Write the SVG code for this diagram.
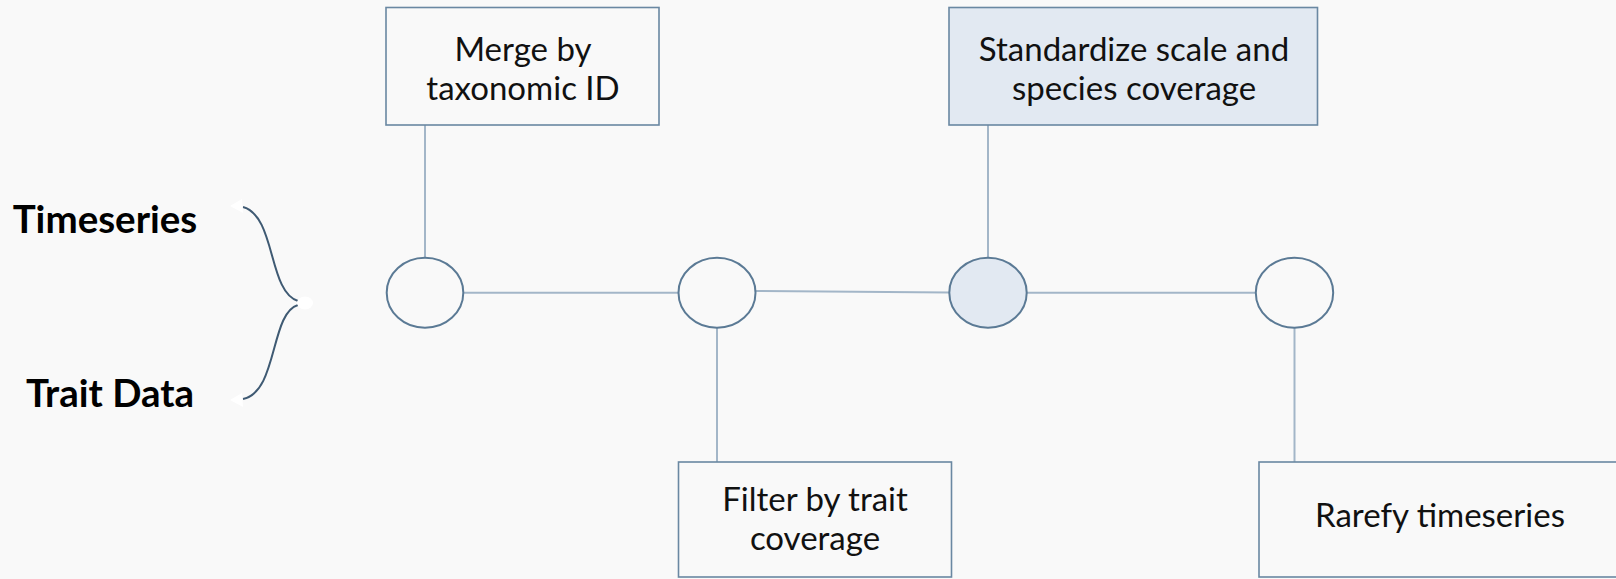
<svg xmlns="http://www.w3.org/2000/svg" width="1616" height="579" viewBox="0 0 1616 579">
  <defs>
    <style>
      .bg { fill: #f9f9f9; }
      .box { fill: #f9f9f9; stroke: #6a88a2; stroke-width: 1.6; }
      .box.hl { fill: #e2e9f2; }
      .node { fill: #f9f9f9; stroke: #5b7a95; stroke-width: 2; }
      .node.hl { fill: #e2e9f2; }
      .link { stroke: #a3b6c8; stroke-width: 2; fill: none; }
      .brace { stroke: #3f5a73; stroke-width: 2; fill: none; }
      .lbl { font-family: Lato, "Open Sans", sans-serif; font-size: 33px; fill: #111; text-anchor: middle; }
      .src { font-family: Lato, "Open Sans", sans-serif; font-size: 38.5px; font-weight: bold; fill: #000; text-anchor: middle; }
    </style>
  </defs>

  <rect class="bg" x="0" y="0" width="1616" height="579"/>

  <!-- connectors -->
  <g id="connectors">
    <line class="link" x1="425" y1="125" x2="425" y2="258"/>
    <line class="link" x1="463" y1="292.7" x2="679" y2="292.7"/>
    <line class="link" x1="717" y1="327" x2="717" y2="462"/>
    <line class="link" x1="755" y1="291" x2="949" y2="292.5"/>
    <line class="link" x1="988" y1="125" x2="988" y2="258"/>
    <line class="link" x1="1027" y1="292.7" x2="1256" y2="292.7"/>
    <line class="link" x1="1294.5" y1="327" x2="1294.5" y2="462"/>
  </g>

  <!-- inputs brace -->
  <g id="inputs">
    <text class="src" x="105" y="233">Timeseries</text>
    <text class="src" x="110" y="407">Trait Data</text>
    <path class="brace" d="M243,207 C276,216 268,292 298,301"/>
    <path class="brace" d="M298,305 C270,313 278,392 243,399"/>
    <polygon points="230,206 242,199 243,213" fill="#ffffff"/>
    <polygon points="230,400 242,393 243,407" fill="#ffffff"/>
    <ellipse cx="305" cy="303" rx="8" ry="6.5" fill="#ffffff"/>
  </g>

  <!-- step circles -->
  <g id="c1"><ellipse class="node" cx="425" cy="292.7" rx="38.3" ry="35"/></g>
  <g id="c2"><ellipse class="node" cx="717" cy="292.7" rx="38.5" ry="35"/></g>
  <g id="c3"><ellipse class="node hl" cx="988" cy="292.7" rx="38.7" ry="35"/></g>
  <g id="c4"><ellipse class="node" cx="1294.5" cy="292.7" rx="38.7" ry="35"/></g>

  <!-- step boxes -->
  <g id="merge">
    <rect class="box" x="386" y="7.5" width="273" height="117.5"/>
    <text class="lbl" x="523" y="61">Merge by</text>
    <text class="lbl" x="523" y="100">taxonomic ID</text>
  </g>
  <g id="filter">
    <rect class="box" x="678.5" y="462" width="273" height="115"/>
    <text class="lbl" x="815" y="511">Filter by trait</text>
    <text class="lbl" x="815" y="550">coverage</text>
  </g>
  <g id="standardize">
    <rect class="box hl" x="949" y="7.5" width="368.5" height="117.5"/>
    <text class="lbl" x="1134" y="61">Standardize scale and</text>
    <text class="lbl" x="1134" y="100">species coverage</text>
  </g>
  <g id="rarefy">
    <rect class="box" x="1259" y="462" width="380" height="115"/>
    <text class="lbl" x="1440" y="527">Rarefy timeseries</text>
  </g>
</svg>
